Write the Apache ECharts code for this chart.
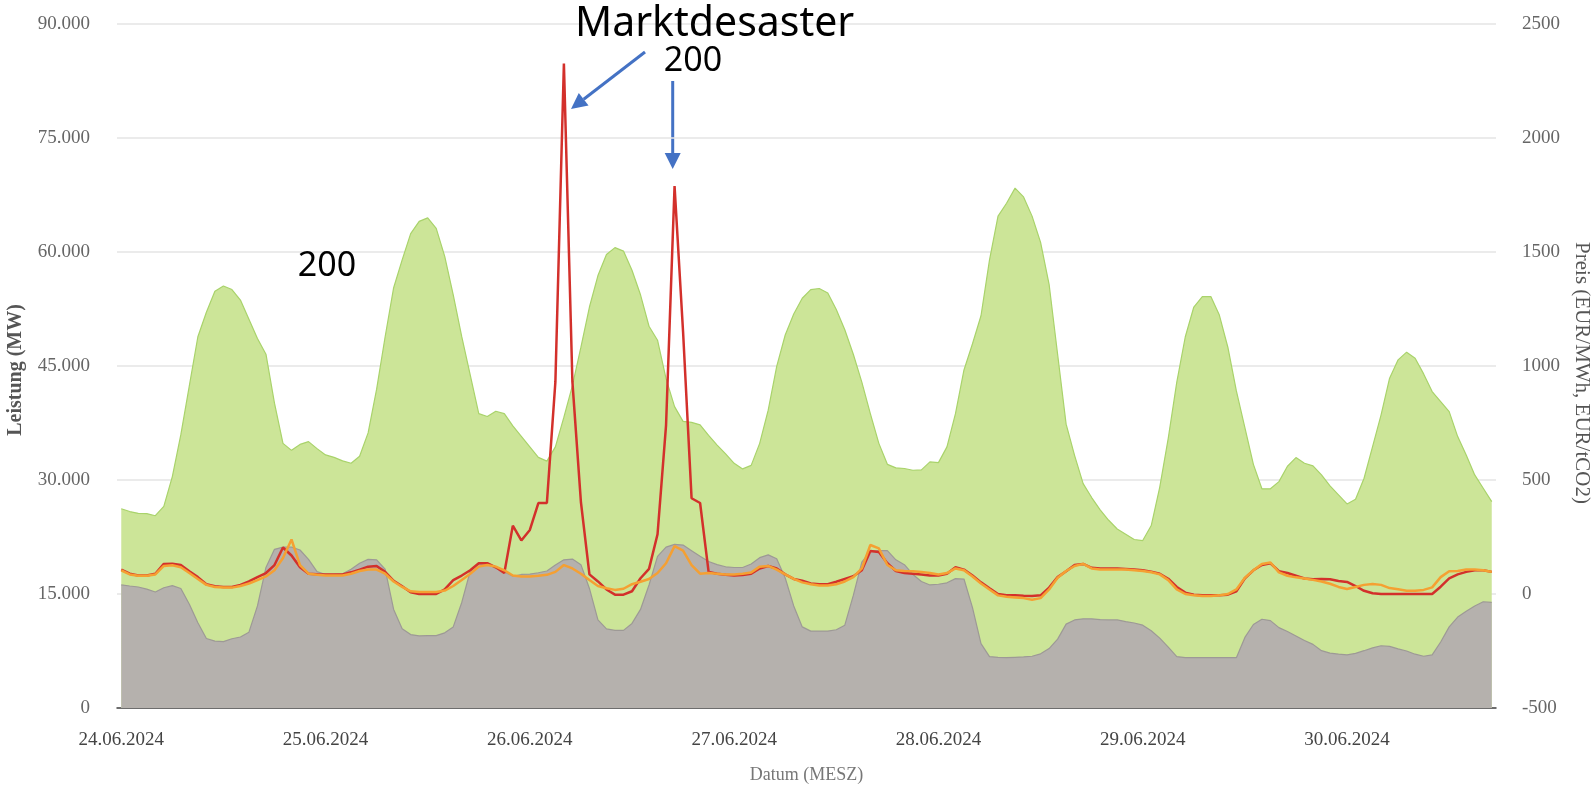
<!DOCTYPE html>
<html lang="de">
<head>
    <meta charset="UTF-8">
    <title>Leistung und Preis 24.06.-30.06.2024</title>
    <script src="https://cdn.jsdelivr.net/npm/echarts/dist/echarts.min.js"></script>
    <style>
        html, body { margin: 0; padding: 0; background: #fff; }
        #main { width: 1592px; height: 785px; }
    </style>
</head>
<body>
<div id="main"></div>
<script>
    // Tage auf der x-Achse (stündliche Werte ab 24.06.2024 00:00)
    const tage = ['24.06.2024', '25.06.2024', '26.06.2024', '27.06.2024', '28.06.2024', '29.06.2024', '30.06.2024'];

    // obere Kante der grünen Fläche (MW)
    const gesamt = [
        26220, 25850, 25620, 25580, 25300, 26540, 30450, 35970, 42410, 48850, 52070, 54830,
        55520, 55060, 53680, 51150, 48620, 46550, 40110, 34820, 33900, 34680, 35050, 34130,
        33300, 32980, 32520, 32200, 33120, 36200, 41950, 48850, 55300, 58970, 62420, 64030,
        64490, 63110, 59430, 54370, 48850, 43790, 38730, 38360, 39050, 38730, 37120, 35740,
        34360, 32980, 32480, 34360, 38270, 42410, 47470, 52760, 56900, 59660, 60580, 60120,
        57590, 54370, 50230, 48390, 43330, 39650, 37720, 37580, 37260, 35880, 34590, 33440,
        32200, 31460, 31920, 34820, 39190, 44940, 49080, 51840, 53910, 55060, 55200, 54600,
        52440, 49770, 46550, 42870, 38730, 34820, 32060, 31600, 31510, 31280, 31330, 32380,
        32290, 34360, 38730, 44480, 47930, 51610, 58970, 64720, 66420, 68400, 67250, 64720,
        61270, 55750, 46550, 37350, 33210, 29530, 27690, 26080, 24700, 23550, 22860, 22170,
        22030, 24010, 29070, 35510, 42870, 48850, 52760, 54140, 54140, 51700, 47470, 41720,
        36890, 32060, 28840, 28840, 29790, 31810, 32950, 32210, 31860, 30670, 29220, 28040,
        26850, 27470, 30230, 34400, 38570, 43400, 45810, 46820, 46030, 43960, 41640, 40320,
        39000, 35710, 33300, 30670, 28920, 27160
    ];

    // graue Fläche (MW)
    const konventionell = [
        16190, 16050, 15920, 15640, 15270, 15820, 16100, 15730, 13660, 11220, 9150, 8790,
        8740, 9110, 9340, 9980, 13430, 18490, 20880, 21160, 21160, 20790, 19550, 17940,
        17570, 17570, 17660, 18260, 19040, 19550, 19500, 18260, 12970, 10440, 9660, 9480,
        9520, 9520, 9890, 10670, 13890, 18030, 19040, 18950, 18400, 17890, 17340, 17570,
        17620, 17800, 18030, 18810, 19500, 19600, 18860, 15730, 11590, 10400, 10210, 10210,
        11130, 12970, 16190, 19960, 21160, 21530, 21440, 20700, 19960, 19270, 18860, 18580,
        18490, 18490, 18950, 19780, 20150, 19640, 17110, 13430, 10670, 10120, 10120, 10120,
        10300, 10900, 14810, 19180, 20610, 20700, 20700, 19500, 18860, 17570, 16650, 16190,
        16280, 16470, 17020, 16970, 13200, 8460, 6760, 6670, 6620, 6670, 6720, 6810,
        7130, 7820, 9060, 11040, 11590, 11730, 11730, 11640, 11590, 11590, 11360, 11180,
        10900, 10170, 9200, 8000, 6760, 6620, 6620, 6620, 6620, 6620, 6620, 6620,
        9290, 10990, 11680, 11500, 10580, 10070, 9480, 8880, 8370, 7540, 7220, 7080,
        6990, 7180, 7540, 7910, 8190, 8100, 7770, 7500, 7080, 6810, 6990, 8690,
        10670, 11960, 12740, 13430, 13980, 13890
    ];

    // rote Preislinie (EUR/MWh)
    const preisRot = [
        107, 89, 81, 81, 89, 132, 133, 127, 100, 74, 43, 34,
        31, 31, 40, 55, 74, 92, 127, 204, 169, 117, 89, 87,
        86, 86, 86, 95, 107, 120, 123, 97, 58, 34, 8, 0,
        0, 0, 20, 61, 81, 104, 135, 135, 117, 92, 300, 235,
        281, 399, 399, 930, 2327, 930, 403, 86, 55, 20, -3, -3,
        12, 69, 110, 262, 740, 1789, 1150, 420, 399, 97, 89, 84,
        81, 83, 89, 112, 123, 112, 86, 66, 58, 46, 43, 43,
        54, 66, 78, 104, 189, 184, 135, 101, 92, 89, 86, 81,
        81, 89, 117, 107, 81, 51, 25, 0, -5, -6, -8, -9,
        -6, 28, 74, 100, 127, 132, 115, 112, 112, 112, 110, 107,
        104, 98, 89, 67, 31, 6, -3, -6, -6, -5, -3, 12,
        69, 104, 127, 135, 100, 92, 80, 68, 65, 66, 65, 57,
        53, 35, 14, 3, 0, 0, 0, 0, 0, 0, 0, 32,
        69, 86, 97, 104, 104, 97
    ];

    // orange Preislinie (EUR/MWh)
    const preisOrange = [
        104, 86, 80, 80, 86, 123, 126, 117, 92, 66, 40, 31,
        28, 28, 35, 46, 61, 77, 104, 158, 239, 127, 89, 84,
        81, 81, 81, 89, 101, 107, 107, 89, 55, 31, 12, 9,
        9, 9, 15, 35, 61, 89, 120, 127, 120, 104, 81, 77,
        77, 80, 84, 97, 127, 112, 89, 61, 35, 25, 18, 23,
        43, 54, 66, 92, 135, 210, 190, 127, 89, 92, 89, 86,
        86, 89, 94, 120, 123, 107, 86, 66, 51, 43, 37, 37,
        43, 55, 74, 112, 215, 200, 127, 104, 101, 100, 97, 92,
        86, 92, 112, 104, 77, 46, 20, -6, -12, -15, -18, -25,
        -18, 20, 71, 101, 123, 132, 112, 107, 107, 107, 107, 104,
        101, 95, 86, 61, 20, 0, -6, -9, -9, -6, 0, 20,
        71, 104, 132, 138, 95, 80, 73, 68, 62, 55, 45, 31,
        22, 31, 40, 44, 40, 26, 21, 14, 14, 18, 29, 74,
        100, 101, 107, 107, 104, 97
    ];

    // Zeitpunkte aus den Tagen bauen (Stunde 0..23 je Tag)
    const zeitpunkte = [];
    for (let i = 0; i < gesamt.length; i++) {
        zeitpunkte.push(tage[Math.floor(i / 24)] + ' ' + (i % 24) + ':00');
    }

    const serif = 'Liberation Serif';
    const blau = '#4472c4';

    function tausender(v) {
        return String(v).replace(/\B(?=(\d{3})+(?!\d))/g, '.');
    }

    // Pfeil als Linie plus Spitze
    function pfeil(x1, y1, x2, y2) {
        const a = Math.atan2(y2 - y1, x2 - x1);
        const len = 16, half = 8;
        const bx = x2 - len * Math.cos(a), by = y2 - len * Math.sin(a);
        return {
            type: 'group',
            z: 100,
            children: [
                {
                    type: 'line',
                    shape: {x1: x1, y1: y1, x2: bx, y2: by},
                    style: {stroke: blau, lineWidth: 3}
                },
                {
                    type: 'polygon',
                    shape: {
                        points: [
                            [x2, y2],
                            [bx + half * Math.sin(a), by - half * Math.cos(a)],
                            [bx - half * Math.sin(a), by + half * Math.cos(a)]
                        ]
                    },
                    style: {fill: blau}
                }
            ]
        };
    }

    const chart = echarts.init(document.getElementById('main'));

    const option = {
        animation: false,
        grid: {left: 117, right: 96, top: 24, bottom: 77, containLabel: false, outerBoundsMode: 'none'},
        xAxis: {
            type: 'category',
            data: zeitpunkte,
            boundaryGap: true,
            name: 'Datum (MESZ)',
            nameLocation: 'middle',
            nameGap: 58,
            nameTextStyle: {fontFamily: serif, fontSize: 18, color: '#777'},
            axisLine: {lineStyle: {color: '#444', width: 1.5}},
            axisTick: {show: false},
            splitLine: {show: false},
            axisLabel: {
                interval: function (index) { return index % 24 === 0; },
                formatter: function (v) { return v.split(' ')[0]; },
                fontFamily: serif,
                fontSize: 19,
                color: '#444',
                margin: 23
            }
        },
        yAxis: [
            {
                type: 'value',
                min: 0,
                max: 90000,
                interval: 15000,
                name: 'Leistung (MW)',
                nameLocation: 'middle',
                nameGap: 91,
                nameTextStyle: {
                    fontFamily: serif, fontSize: 20, fontWeight: 'bold', color: '#555',
                    padding: [0, 8, 0, 0]
                },
                axisLine: {show: false},
                axisTick: {show: false},
                splitLine: {lineStyle: {color: '#e4e4e4', width: 1.5}},
                axisLabel: {
                    formatter: tausender,
                    fontFamily: serif,
                    fontSize: 19,
                    color: '#666',
                    margin: 27
                }
            },
            {
                type: 'value',
                min: -500,
                max: 2500,
                interval: 500,
                position: 'right',
                name: 'Preis (EUR/MWh, EUR/tCO2)',
                nameLocation: 'middle',
                nameRotate: -90,
                nameGap: 74,
                nameTextStyle: {
                    fontFamily: serif, fontSize: 21, color: '#555',
                    padding: [0, 0, 0, 14]
                },
                axisLine: {show: false},
                axisTick: {show: false},
                splitLine: {show: false},
                axisLabel: {
                    formatter: function (v) { return String(v); },
                    fontFamily: serif,
                    fontSize: 19,
                    color: '#666',
                    margin: 26
                }
            }
        ],
        series: [
            {
                name: 'Gesamt',
                type: 'line',
                data: gesamt,
                symbol: 'none',
                lineStyle: {color: '#a9d36b', width: 1.2},
                areaStyle: {color: '#cce598', opacity: 1}
            },
            {
                name: 'Konventionell',
                type: 'line',
                data: konventionell,
                symbol: 'none',
                lineStyle: {color: '#9d9996', width: 1.2},
                areaStyle: {color: '#b5b1ad', opacity: 1}
            },
            {
                name: 'Preis rot',
                type: 'line',
                yAxisIndex: 1,
                data: preisRot,
                symbol: 'none',
                lineStyle: {color: '#d3302b', width: 2.5}
            },
            {
                name: 'Preis orange',
                type: 'line',
                yAxisIndex: 1,
                data: preisOrange,
                symbol: 'none',
                lineStyle: {color: '#f5a032', width: 2.5}
            }
        ],
        graphic: [
            {
                type: 'text',
                left: 575,
                top: 4,
                style: {
                    text: 'Marktdesaster',
                    fontFamily: 'Noto Sans',
                    fontSize: 41,
                    fill: '#000'
                },
                z: 100
            },
            {
                type: 'text',
                x: 693, y: 61,
                style: {
                    text: '200', fontFamily: 'Noto Sans', fontSize: 34, fill: '#000',
                    align: 'center', verticalAlign: 'middle'
                },
                z: 100
            },
            {
                type: 'text',
                x: 327, y: 266,
                style: {
                    text: '200', fontFamily: 'Noto Sans', fontSize: 34, fill: '#000',
                    align: 'center', verticalAlign: 'middle'
                },
                z: 100
            },
            pfeil(645, 52, 571, 109),
            pfeil(672.7, 81, 672.7, 169)
        ]
    };

    chart.setOption(option);
</script>
</body>
</html>
